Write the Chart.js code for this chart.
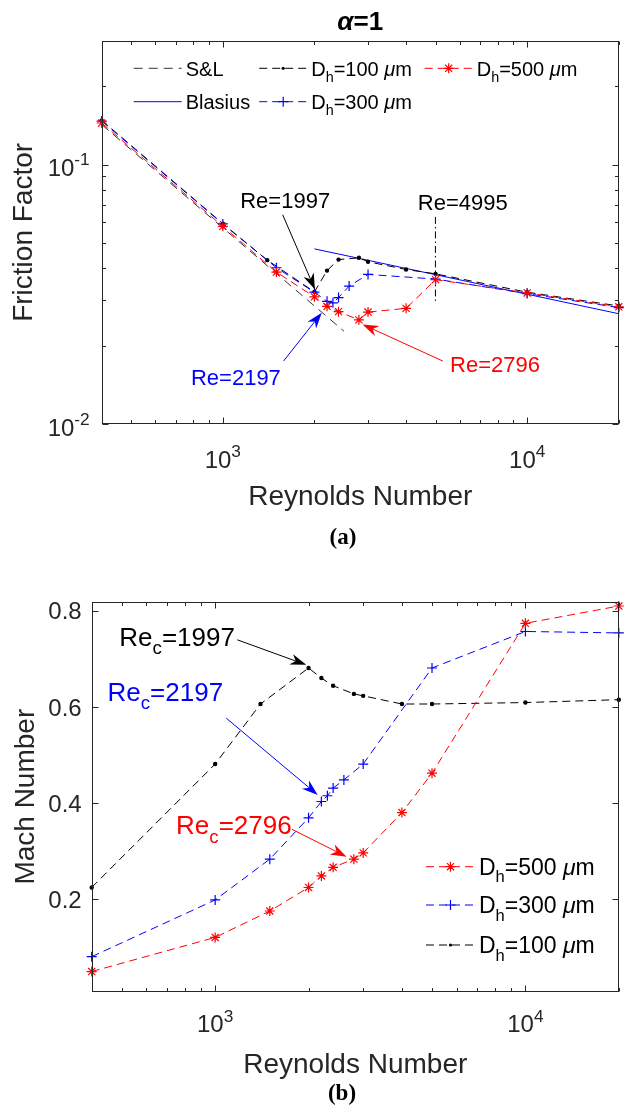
<!DOCTYPE html>
<html>
<head>
<meta charset="utf-8">
<script src="https://cdn.jsdelivr.net/npm/chart.js@4"></script>
<style>
  html, body { margin: 0; padding: 0; background: #ffffff; }
  #wrap { position: relative; width: 625px; height: 1106px; overflow: hidden; }
  canvas { position: absolute; left: 0; }
</style>
</head>
<body>
<div id="wrap">
  <canvas id="friction" width="625" height="560" style="top:0px"></canvas>
  <canvas id="mach" width="625" height="546" style="top:560px"></canvas>
</div>
<script>
// ---------- data ----------
const reynolds500 = [400, 1000, 1500, 2000, 2200, 2400, 2800, 3000, 4000, 5000, 10000, 20000];
const reynolds300 = [400, 1000, 1500, 2000, 2200, 2300, 2400, 2600, 3000, 5000, 10000, 20000];
const reynolds100 = [400, 1000, 1400, 2000, 2200, 2400, 2800, 3000, 4000, 5000, 10000, 20000];

const friction500 = [0.1445, 0.0578, 0.0385, 0.0309, 0.0284, 0.0271, 0.0252, 0.0270, 0.0279, 0.0360, 0.0320, 0.0283];
const friction300 = [0.1470, 0.0590, 0.0400, 0.0322, 0.0297, 0.0293, 0.0307, 0.0340, 0.0377, 0.0362, 0.0318, 0.0281];
const friction100 = [0.1480, 0.0592, 0.0428, 0.0323, 0.0390, 0.0430, 0.0437, 0.0422, 0.0394, 0.0379, 0.0322, 0.0285];

const reynoldsSL = [400, 2500];
const frictionSL = [0.1425, 0.0228];
const reynoldsBlasius = [2000, 20000];
const frictionBlasius = [0.0473, 0.0266];
const reynoldsTurbulent = [4995, 4995];
const frictionTurbulent = [0.0628, 0.0295];

const mach500 = [0.049, 0.120, 0.175, 0.224, 0.248, 0.266, 0.283, 0.296, 0.380, 0.462, 0.774, 0.810];
const mach300 = [0.080, 0.198, 0.283, 0.369, 0.403, 0.415, 0.431, 0.448, 0.481, 0.681, 0.757, 0.754];
const mach100 = [0.224, 0.481, 0.606, 0.681, 0.660, 0.644, 0.627, 0.623, 0.606, 0.606, 0.609, 0.615];

const reynoldsRange = [400, 20000];
const frictionRange = [0.01, 0.3];
const machRange = [0.007, 0.819];

const reynoldsTicks = [1000, 10000];
const frictionTicks = [0.01, 0.1];
const machTicks = [0.2, 0.4, 0.6, 0.8];

// ---------- styles ----------
const FONT = '"Liberation Sans", Arial, Helvetica, sans-serif';
const SERIF = '"Liberation Serif", "Times New Roman", serif';
const AXIS = '#262626';
const RED = '#ff0000';
const BLUE = '#0000ff';
const BLACK = '#000000';
const DASH = [8, 5];

function fontStr(size, r) {
  r = r || {};
  return (r.it ? 'italic ' : '') + (r.bold ? 'bold ' : '') + size + 'px ' + (r.serif ? SERIF : FONT);
}
function runSize(r, size) { return (r.sub || r.sup) ? size * 0.72 : size; }
function richWidth(ctx, runs, size) {
  let w = 0;
  for (const r of runs) { ctx.font = fontStr(runSize(r, size), r); w += ctx.measureText(r.t).width; }
  return w;
}
// draws text runs (with sub/superscripts); y is the vertical middle of the main glyphs
function drawRich(ctx, runs, x, y, size, color, align) {
  const w = richWidth(ctx, runs, size);
  let cx = align === 'center' ? x - w / 2 : align === 'right' ? x - w : x;
  const base = y + size * 0.36;
  ctx.fillStyle = color;
  ctx.textBaseline = 'alphabetic';
  ctx.textAlign = 'left';
  for (const r of runs) {
    const s = runSize(r, size);
    ctx.font = fontStr(s, r);
    const dy = r.sub ? size * 0.32 : r.sup ? -size * 0.45 : 0;
    ctx.fillText(r.t, cx, base + dy);
    cx += ctx.measureText(r.t).width;
  }
}
function dhLabel(v) {
  return [{ t: 'D' }, { t: 'h', sub: true }, { t: '=' + v + ' ' }, { t: 'μ', it: true }, { t: 'm' }];
}
function powLabel(v) {
  return [{ t: '10' }, { t: String(Math.round(Math.log10(v))), sup: true }];
}
function minorLog(lo, hi) {
  const out = [];
  for (let d = Math.floor(Math.log10(lo)); d <= Math.ceil(Math.log10(hi)); d++) {
    for (let m = 2; m <= 9; m++) {
      const v = m * Math.pow(10, d);
      if (v >= lo * 0.999 && v <= hi * 1.001) out.push(v);
    }
  }
  return out;
}
function marker(ctx, style, x, y, r, color) {
  ctx.save();
  ctx.strokeStyle = color; ctx.fillStyle = color; ctx.lineWidth = 1.2; ctx.setLineDash([]);
  ctx.beginPath();
  if (style === 'circle') {
    ctx.arc(x, y, r, 0, Math.PI * 2); ctx.fill();
  } else {
    const arms = style === 'star' ? 8 : 4;
    for (let i = 0; i < arms; i++) {
      const a = i * Math.PI * 2 / arms;
      ctx.moveTo(x, y); ctx.lineTo(x + r * Math.cos(a), y + r * Math.sin(a));
    }
    ctx.stroke();
  }
  ctx.restore();
}
function arrow(ctx, x0, y0, x1, y1, color) {
  const head = 16, half = 5.5;
  const ang = Math.atan2(y1 - y0, x1 - x0);
  const ux = Math.cos(ang), uy = Math.sin(ang);
  const bx = x1 - head * ux, by = y1 - head * uy;
  const nx = x1 - head * 0.7 * ux, ny = y1 - head * 0.7 * uy;
  ctx.save();
  ctx.strokeStyle = color; ctx.fillStyle = color; ctx.lineWidth = 1; ctx.setLineDash([]);
  ctx.beginPath(); ctx.moveTo(x0, y0); ctx.lineTo(nx, ny); ctx.stroke();
  ctx.beginPath();
  ctx.moveTo(x1, y1);
  ctx.lineTo(bx - uy * half, by + ux * half);
  ctx.lineTo(nx, ny);
  ctx.lineTo(bx + uy * half, by - ux * half);
  ctx.closePath(); ctx.fill();
  ctx.restore();
}

function series(xs, ys, color, style, opts) {
  opts = opts || {};
  return {
    data: xs.map((x, i) => ({ x: x, y: ys[i] })),
    borderColor: color,
    backgroundColor: color,
    borderWidth: opts.width || 1,
    borderDash: opts.dash || DASH,
    pointStyle: style || 'circle',
    pointRadius: style ? (opts.r || 5) : 0,
    pointBorderColor: color,
    pointBackgroundColor: color,
    pointBorderWidth: 1.2,
    tension: 0,
    fill: false,
    clip: false
  };
}

// axes box, inward ticks, labels, legend and annotations
function framePlugin(cfg) {
  return {
    id: 'frame',
    afterDatasetsDraw(chart) {
      const ctx = chart.ctx, a = chart.chartArea, xs = chart.scales.x, ys = chart.scales.y;
      ctx.save();
      ctx.strokeStyle = AXIS; ctx.lineWidth = 1; ctx.setLineDash([]);
      const L = Math.round(a.left) + 0.5, R = Math.round(a.right) - 0.5;
      const T = Math.round(a.top) + 0.5, B = Math.round(a.bottom) - 0.5;
      ctx.strokeRect(L, T, R - L, B - T);
      ctx.beginPath();
      const xt = (v, len) => { const p = Math.round(xs.getPixelForValue(v)) + 0.5; ctx.moveTo(p, B); ctx.lineTo(p, B - len); ctx.moveTo(p, T); ctx.lineTo(p, T + len); };
      const yt = (v, len) => { const p = Math.round(ys.getPixelForValue(v)) + 0.5; ctx.moveTo(L, p); ctx.lineTo(L + len, p); ctx.moveTo(R, p); ctx.lineTo(R - len, p); };
      cfg.xMajor.forEach(v => xt(v, 6)); cfg.xMinor.forEach(v => xt(v, 3.5));
      cfg.yMajor.forEach(v => yt(v, 6)); cfg.yMinor.forEach(v => yt(v, 3.5));
      ctx.stroke();

      cfg.xMajor.forEach(v => drawRich(ctx, cfg.xLabel(v), xs.getPixelForValue(v), a.bottom + cfg.xLabelGap, 24, AXIS, 'center'));
      cfg.yMajor.forEach(v => drawRich(ctx, cfg.yLabel(v), a.left - cfg.yLabelGap, ys.getPixelForValue(v) + cfg.yLabelShift, 24, AXIS, 'right'));

      drawRich(ctx, [{ t: 'Reynolds Number' }], (a.left + a.right) / 2, a.bottom + cfg.xTitleGap, 28, AXIS, 'center');
      ctx.save();
      ctx.translate(cfg.yTitleX, (a.top + a.bottom) / 2);
      ctx.rotate(-Math.PI / 2);
      drawRich(ctx, [{ t: cfg.yTitle }], 0, 0, 28, AXIS, 'center');
      ctx.restore();
      drawRich(ctx, [{ t: cfg.caption, bold: true, serif: true }], cfg.captionX, a.bottom + cfg.captionGap, 23, BLACK, 'center');
      if (cfg.title) drawRich(ctx, cfg.title, (a.left + a.right) / 2, cfg.titleY, 26, BLACK, 'center');

      // legend
      for (const e of cfg.legend) {
        const lx = a.left + e.dx, ly = a.top + e.dy;
        ctx.save();
        ctx.strokeStyle = e.color; ctx.lineWidth = 1; ctx.setLineDash(e.dash || []);
        ctx.beginPath(); ctx.moveTo(lx, ly); ctx.lineTo(lx + cfg.sample, ly); ctx.stroke();
        ctx.restore();
        if (e.marker) marker(ctx, e.marker, lx + cfg.sample / 2, ly, e.marker === 'circle' ? 1.6 : 5, e.color);
        drawRich(ctx, e.label, lx + cfg.sample + 4, ly, cfg.legendSize, BLACK, 'left');
      }

      // annotations
      for (const n of cfg.notes) {
        if (n.from) arrow(ctx, xs.getPixelForValue(n.from[0]), ys.getPixelForValue(n.from[1]),
                              xs.getPixelForValue(n.to[0]), ys.getPixelForValue(n.to[1]), n.color);
        drawRich(ctx, n.label, xs.getPixelForValue(n.at[0]), ys.getPixelForValue(n.at[1]), n.size, n.color, n.align);
      }
      ctx.restore();
    }
  };
}

const baseOptions = (xr, yr, yType, pad) => ({
  responsive: false,
  animation: false,
  devicePixelRatio: 1,
  events: [],
  layout: { padding: pad },
  plugins: { legend: { display: false }, tooltip: { enabled: false }, title: { display: false } },
  scales: {
    x: { type: 'logarithmic', min: xr[0], max: xr[1], display: false },
    y: { type: yType, min: yr[0], max: yr[1], display: false }
  }
});

// ---------- (a) friction factor ----------
new Chart(document.getElementById('friction'), {
  type: 'line',
  data: {
    datasets: [
      series(reynolds500, friction500, RED, 'star'),
      series(reynolds300, friction300, BLUE, 'cross'),
      series(reynolds100, friction100, BLACK, 'circle', { r: 1.6 }),
      series(reynoldsBlasius, frictionBlasius, BLUE, null, { dash: [] }),
      series(reynoldsSL, frictionSL, '#333333', null, { dash: [9, 6] }),
      series(reynoldsTurbulent, frictionTurbulent, BLACK, null, { dash: [7, 3, 1.5, 3] })
    ]
  },
  options: baseOptions(reynoldsRange, frictionRange, 'logarithmic', { left: 101.7, top: 40.7, right: 2, bottom: 136 }),
  plugins: [framePlugin({
    xMajor: reynoldsTicks, xMinor: minorLog(reynoldsRange[0], reynoldsRange[1]),
    yMajor: frictionTicks, yMinor: minorLog(frictionRange[0], frictionRange[1]),
    xLabel: powLabel, yLabel: powLabel,
    xLabelGap: 35, yLabelGap: 12, yLabelShift: 3,
    xTitleGap: 71, yTitle: 'Friction Factor', yTitleX: 22,
    caption: '(a)', captionX: 343, captionGap: 112,
    title: [{ t: 'α', it: true, bold: true }, { t: '=1', bold: true }], titleY: 21,
    sample: 48, legendSize: 20,
    legend: [
      { dx: 32, dy: 27.6, color: '#333333', dash: [9, 6], label: [{ t: 'S&L' }] },
      { dx: 157.5, dy: 27.6, color: BLACK, dash: DASH, marker: 'circle', label: dhLabel(100) },
      { dx: 323, dy: 27.6, color: RED, dash: DASH, marker: 'star', label: dhLabel(500) },
      { dx: 32, dy: 61, color: BLUE, dash: [], label: [{ t: 'Blasius' }] },
      { dx: 157.5, dy: 61, color: BLUE, dash: DASH, marker: 'cross', label: dhLabel(300) }
    ],
    notes: [
      { label: [{ t: 'Re=1997' }], color: BLACK, size: 22, align: 'center', at: [1603, 0.0727], from: [1573, 0.0640], to: [2008, 0.0330] },
      { label: [{ t: 'Re=4995' }], color: BLACK, size: 22, align: 'center', at: [6144, 0.0714] },
      { label: [{ t: 'Re=2197' }], color: BLUE, size: 22, align: 'center', at: [1104, 0.01521], from: [1583, 0.01748], to: [2114, 0.02686] },
      { label: [{ t: 'Re=2796' }], color: RED, size: 22, align: 'center', at: [7842, 0.01697], from: [5285, 0.01748], to: [2878, 0.0242] }
    ]
  })]
});

// ---------- (b) Mach number ----------
new Chart(document.getElementById('mach'), {
  type: 'line',
  data: {
    datasets: [
      series(reynolds500, mach500, RED, 'star'),
      series(reynolds300, mach300, BLUE, 'cross'),
      series(reynolds100, mach100, BLACK, 'circle', { r: 1.6 })
    ]
  },
  options: baseOptions(reynoldsRange, machRange, 'linear', { left: 91.7, top: 41.7, right: 2.5, bottom: 114.3 }),
  plugins: [framePlugin({
    xMajor: reynoldsTicks, xMinor: minorLog(reynoldsRange[0], reynoldsRange[1]),
    yMajor: machTicks, yMinor: [],
    xLabel: powLabel, yLabel: v => [{ t: v.toFixed(1) }],
    xLabelGap: 32, yLabelGap: 10, yLabelShift: 0,
    xTitleGap: 71, yTitle: 'Mach Number', yTitleX: 24,
    caption: '(b)', captionX: 342, captionGap: 100,
    title: null,
    sample: 49, legendSize: 23,
    legend: [
      { dx: 334.3, dy: 265, color: RED, dash: DASH, marker: 'star', label: dhLabel(500) },
      { dx: 334.3, dy: 303.3, color: BLUE, dash: DASH, marker: 'cross', label: dhLabel(300) },
      { dx: 334.3, dy: 343.3, color: BLACK, dash: DASH, marker: 'circle', label: dhLabel(100) }
    ],
    notes: [
      { label: [{ t: 'Re' }, { t: 'c', sub: true }, { t: '=1997' }], color: BLACK, size: 26, align: 'left', at: [491, 0.746], from: [1179, 0.7396], to: [1966, 0.6875] },
      { label: [{ t: 'Re' }, { t: 'c', sub: true }, { t: '=2197' }], color: BLUE, size: 26, align: 'left', at: [449.8, 0.6319], from: [1086, 0.5765], to: [2141, 0.4167] },
      { label: [{ t: 'Re' }, { t: 'c', sub: true }, { t: '=2796' }], color: RED, size: 26, align: 'left', at: [748, 0.3542], from: [1767, 0.3452], to: [2651, 0.2881] }
    ]
  })]
});
</script>
</body>
</html>
